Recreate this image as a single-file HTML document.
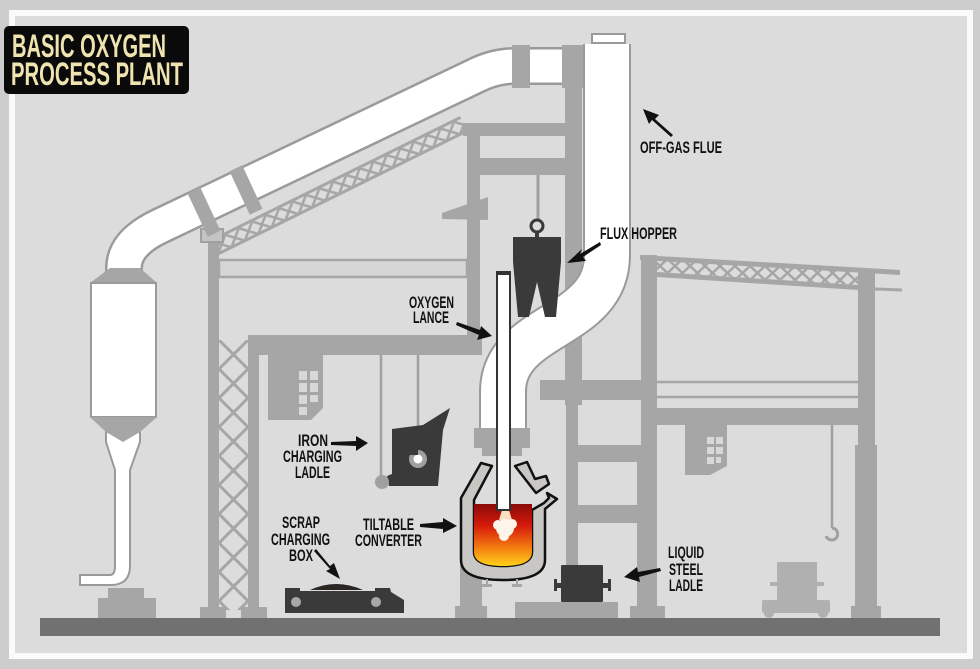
<!DOCTYPE html>
<html><head><meta charset="utf-8"><style>
html,body{margin:0;padding:0;background:#cdcdcd;}
svg{display:block;}
text{font-family:"Liberation Sans Narrow","Liberation Sans",sans-serif;font-weight:bold;fill:#111;}
</style></head><body>
<svg width="980" height="669" viewBox="0 0 980 669" xmlns="http://www.w3.org/2000/svg">
<defs>
<pattern id="xv" patternUnits="userSpaceOnUse" x="219" y="340" width="29" height="29">
<path d="M0 0 L29 29 M29 0 L0 29" stroke="#a6a6a6" stroke-width="3"/></pattern>
<pattern id="xs" patternUnits="userSpaceOnUse" width="15" height="14">
<path d="M0 0 L15 14 M15 0 L0 14" stroke="#a6a6a6" stroke-width="2.5"/></pattern>
<linearGradient id="melt" x1="0" y1="0" x2="0" y2="1">
<stop offset="0" stop-color="#8a0a0a"/><stop offset="0.35" stop-color="#d51a0a"/><stop offset="0.7" stop-color="#f47a10"/><stop offset="1" stop-color="#ffd21a"/></linearGradient>
<marker id="ah" markerWidth="10" markerHeight="10" refX="8" refY="5" orient="auto" markerUnits="userSpaceOnUse"><path d="M0 0 L10 5 L0 10 L2 5 Z" fill="#111"/></marker>
</defs>
<rect width="980" height="669" fill="#cdcdcd"/>
<rect x="12" y="13" width="958" height="643" fill="#dcdcdc" stroke="#fafafa" stroke-width="6"/>

<!-- ground -->
<rect x="40" y="618" width="900" height="18" fill="#717171"/>

<!-- left building -->
<rect x="208" y="236" width="11" height="382" fill="#a6a6a6"/>
<rect x="219" y="340" width="29" height="270" fill="url(#xv)"/>
<rect x="248" y="337" width="11" height="281" fill="#a6a6a6"/>
<rect x="200" y="607" width="26" height="11" fill="#a6a6a6"/>
<rect x="241" y="607" width="26" height="11" fill="#a6a6a6"/>
<rect x="219" y="260" width="248" height="17" fill="#d6d6d6" stroke="#a6a6a6" stroke-width="2.5"/>
<g transform="translate(218,254) rotate(-26.3)">
<rect x="0" y="-15" width="278" height="15" fill="url(#xs)"/>
<line x1="0" y1="-15" x2="278" y2="-15" stroke="#a6a6a6" stroke-width="3"/>
<line x1="0" y1="0" x2="278" y2="0" stroke="#a6a6a6" stroke-width="3"/>
</g>
<rect x="201" y="229" width="22" height="13" fill="#c4c4c4" stroke="#a0a0a0" stroke-width="2"/>

<!-- upper central frame -->
<rect x="463" y="123" width="112" height="13" fill="#a6a6a6"/>
<rect x="467" y="123" width="13" height="215" fill="#a6a6a6"/>
<rect x="476" y="158" width="92" height="17" fill="#a6a6a6"/>
<rect x="565" y="45" width="17" height="360" fill="#a6a6a6"/>
<polygon points="442,213 488,197 488,220 442,219" fill="#a6a6a6"/>
<line x1="538" y1="175" x2="538" y2="220" stroke="#a6a6a6" stroke-width="3"/>

<!-- middle beam + hanging block -->
<rect x="248" y="335" width="234" height="20" fill="#a6a6a6"/>
<polygon points="268,355 323,355 323,408 311,420 268,420" fill="#a6a6a6"/>
<g fill="#d8d8d8"><rect x="299" y="371" width="8" height="9"/><rect x="310" y="371" width="8" height="9"/><rect x="299" y="383" width="8" height="9"/><rect x="310" y="383" width="8" height="9"/><rect x="299" y="395" width="8" height="9"/><rect x="310" y="395" width="8" height="7"/><rect x="299" y="407" width="8" height="8"/></g>
<line x1="381" y1="355" x2="381" y2="480" stroke="#a0a0a0" stroke-width="2.5"/>
<line x1="418" y1="355" x2="418" y2="452" stroke="#a0a0a0" stroke-width="2.5"/>

<!-- right structure -->
<polygon points="640,255 900,270 900,275 640,260" fill="#a6a6a6"/>
<polygon points="657,272 858,285 858,290 657,277" fill="#a6a6a6"/>
<polygon points="657,259 858,272 858,285 657,272" fill="url(#xs)"/>
<line x1="875" y1="289" x2="902" y2="290" stroke="#a6a6a6" stroke-width="3"/>
<rect x="641" y="255" width="16" height="363" fill="#a6a6a6"/>
<rect x="637" y="445" width="20" height="165" fill="#a6a6a6"/>
<rect x="858" y="272" width="17" height="346" fill="#a6a6a6"/>
<rect x="855" y="445" width="22" height="165" fill="#a6a6a6"/>
<rect x="630" y="606" width="35" height="12" fill="#a6a6a6"/>
<rect x="851" y="606" width="30" height="12" fill="#a6a6a6"/>
<line x1="657" y1="382" x2="858" y2="382" stroke="#a6a6a6" stroke-width="2.5"/>
<line x1="657" y1="397" x2="858" y2="397" stroke="#a6a6a6" stroke-width="2.5"/>
<rect x="657" y="408" width="201" height="17" fill="#a6a6a6"/>
<polygon points="685,425 727,425 727,466 710,475 685,475" fill="#a6a6a6"/>
<g fill="#d8d8d8"><rect x="707" y="437" width="7" height="7"/><rect x="716" y="437" width="7" height="7"/><rect x="707" y="447" width="7" height="7"/><rect x="716" y="447" width="7" height="7"/><rect x="707" y="457" width="7" height="7"/><rect x="716" y="457" width="5" height="6"/></g>
<line x1="832" y1="425" x2="832" y2="528" stroke="#a0a0a0" stroke-width="2.5"/>
<path d="M832 528 A6 6 0 1 1 826 536" fill="none" stroke="#a0a0a0" stroke-width="3"/>
<!-- light cart -->
<rect x="777" y="562" width="40" height="38" fill="#b0b0b0"/>
<rect x="770" y="582" width="7" height="4" fill="#b0b0b0"/><rect x="817" y="582" width="7" height="4" fill="#b0b0b0"/>
<rect x="762" y="600" width="68" height="13" rx="2" fill="#b0b0b0"/>
<circle cx="769" cy="613" r="5" fill="#b0b0b0"/><circle cx="823" cy="613" r="5" fill="#b0b0b0"/>

<!-- right-of-flue frame -->
<rect x="540" y="380" width="102" height="20" fill="#a6a6a6"/>
<rect x="566" y="400" width="12" height="210" fill="#a6a6a6"/>
<rect x="578" y="445" width="60" height="17" fill="#a6a6a6"/>
<rect x="578" y="505" width="60" height="18" fill="#a6a6a6"/>
<rect x="559" y="606" width="30" height="12" fill="#a6a6a6"/>

<!-- converter support column -->
<rect x="460" y="565" width="22" height="45" fill="#a6a6a6"/>
<rect x="455" y="606" width="32" height="12" fill="#a6a6a6"/>

<!-- top pipe -->
<path d="M590 66 L515 66 Q495 66 475 76 L160 226 Q124 243 124 268 L124 285" fill="none" stroke="#9a9a9a" stroke-width="38"/>
<path d="M590 66 L515 66 Q495 66 475 76 L160 226 Q124 243 124 268 L124 285" fill="none" stroke="#ffffff" stroke-width="33"/>
<rect x="512" y="45" width="18" height="43" fill="#a6a6a6"/>
<rect x="562" y="45" width="22" height="43" fill="#a6a6a6"/>
<rect x="197" y="188" width="14" height="48" fill="#a6a6a6" transform="rotate(-25 204 212)"/>
<rect x="239" y="166" width="14" height="48" fill="#a6a6a6" transform="rotate(-25 246 190)"/>

<!-- filter -->
<polygon points="110,268 140,268 157,283 90,283" fill="#a6a6a6"/>
<rect x="91" y="283" width="65" height="134" fill="#fff" stroke="#9a9a9a" stroke-width="2"/>
<path d="M106 432 L140 432 L140 442 L130 470 L130 566 Q130 584 112 585 L80 585 L80 575 L110 575 Q115 575 115 566 L115 470 L106 442 Z" fill="#fff" stroke="#9a9a9a" stroke-width="2"/>
<polygon points="90,417 157,417 140,432 123,442 106,432" fill="#a6a6a6"/>
<rect x="108" y="588" width="36" height="10" fill="#a6a6a6"/>
<rect x="98" y="598" width="58" height="20" fill="#a6a6a6"/>

<!-- flue -->
<path d="M607 44 L607 255 C607 330 503 322 503 392 L503 428" fill="none" stroke="#9a9a9a" stroke-width="48"/>
<path d="M607 44 L607 255 C607 330 503 322 503 392 L503 428" fill="none" stroke="#ffffff" stroke-width="44"/>
<rect x="592" y="34" width="33" height="9" fill="#fff" stroke="#9a9a9a" stroke-width="2"/>
<rect x="474" y="428" width="56" height="20" fill="#a6a6a6"/>
<rect x="482" y="448" width="40" height="8" fill="#a6a6a6"/>

<!-- flux hopper -->
<line x1="538" y1="175" x2="538" y2="220" stroke="#a0a0a0" stroke-width="3"/>
<circle cx="537" cy="226" r="6" fill="none" stroke="#3a3a3a" stroke-width="3"/>
<rect x="535" y="231" width="4" height="7" fill="#3a3a3a"/>
<polygon points="513,237 561,237 561,262 556,317 545,317 537,282 529,317 518,317 513,262" fill="#3a3a3a"/>

<!-- iron ladle -->
<polygon points="392,429 423,425 450,408 443,430 438,486 389,486 387,476 392,474" fill="#3a3a3a"/>
<circle cx="382" cy="482" r="7" fill="#a0a0a0"/>
<path d="M418 450 L418 453" stroke="#a0a0a0" stroke-width="3"/>
<circle cx="418" cy="459" r="9" fill="#a0a0a0"/><circle cx="418" cy="459" r="4.5" fill="#fff"/>
<rect x="409" y="448" width="9" height="7" fill="#3a3a3a"/>

<!-- converter -->
<path d="M481 463 L492 466 L474 500 L474 552 Q474 566 503 566 Q532 566 532 552 L532 510 L544 503 L549 498 L547 493 L557 499 L545 509 L545 560 Q545 580 503 580 Q461 580 461 560 L461 498 Z" fill="#c9c7c4" stroke="#111" stroke-width="2.5" stroke-linejoin="round"/>
<path d="M515 466 L527 462 L535 479 L546 476 L549 484 L536 493 Z" fill="#c9c7c4" stroke="#111" stroke-width="2.5" stroke-linejoin="round"/>
<path d="M474 504 L532 504 L532 552 Q532 566 503 566 Q474 566 474 552 Z" fill="url(#melt)"/>
<polygon points="502,510 509,510 512,520 499,520" fill="#f7e0c0"/>
<circle cx="505" cy="528" r="9" fill="#fff4ea"/><circle cx="498" cy="525" r="5" fill="#fff4ea"/><circle cx="512" cy="524" r="5" fill="#fff4ea"/><circle cx="504" cy="536" r="5" fill="#fff4ea"/>
<rect x="486" y="579" width="2" height="5" fill="#a6a6a6"/><rect x="482" y="584" width="10" height="3" fill="#a6a6a6"/>
<rect x="516" y="579" width="2" height="5" fill="#a6a6a6"/><rect x="512" y="584" width="10" height="3" fill="#a6a6a6"/>

<!-- lance -->
<rect x="497" y="273" width="13" height="237" fill="#fff" stroke="#333" stroke-width="2"/>
<rect x="496" y="271" width="15" height="4" fill="#333"/>

<!-- scrap box -->
<path d="M310 590 Q336 578 363 590 Z" fill="#2a2622"/>
<polygon points="285,588 300,588 300,591 375,591 375,588 390,588 391,592 404,600 404,613 285,613" fill="#3a3a3a"/>
<circle cx="296" cy="602" r="5" fill="#a8a8a8"/><circle cx="376" cy="602" r="5" fill="#a8a8a8"/>

<!-- liquid steel ladle -->
<rect x="515" y="602" width="103" height="16" fill="#a6a6a6"/>
<rect x="561" y="565" width="42" height="37" rx="1" fill="#3a3a3a"/>
<rect x="555" y="583" width="7" height="5" fill="#3a3a3a"/><rect x="554" y="579" width="3" height="12" fill="#3a3a3a"/>
<rect x="603" y="583" width="7" height="5" fill="#3a3a3a"/><rect x="608" y="579" width="3" height="12" fill="#3a3a3a"/>

<!-- title -->
<rect x="4" y="26" width="185" height="68" rx="5" fill="#0a0a0a"/>
<text x="12" y="57" font-size="32" textLength="154" lengthAdjust="spacingAndGlyphs" style="fill:#efe4b0">BASIC OXYGEN</text>
<text x="11" y="85" font-size="32" textLength="172" lengthAdjust="spacingAndGlyphs" style="fill:#efe4b0">PROCESS PLANT</text>

<!-- labels -->
<g font-size="17">
<text x="640" y="153" textLength="82" lengthAdjust="spacingAndGlyphs">OFF-GAS FLUE</text>
<text x="600" y="239" textLength="77" lengthAdjust="spacingAndGlyphs">FLUX HOPPER</text>
<text x="409" y="308" textLength="45" lengthAdjust="spacingAndGlyphs">OXYGEN</text>
<text x="413" y="323" textLength="36" lengthAdjust="spacingAndGlyphs">LANCE</text>
<text x="298" y="446" textLength="30" lengthAdjust="spacingAndGlyphs">IRON</text>
<text x="283" y="462" textLength="59" lengthAdjust="spacingAndGlyphs">CHARGING</text>
<text x="295" y="478" textLength="35" lengthAdjust="spacingAndGlyphs">LADLE</text>
<text x="282" y="528" textLength="38" lengthAdjust="spacingAndGlyphs">SCRAP</text>
<text x="271" y="545" textLength="59" lengthAdjust="spacingAndGlyphs">CHARGING</text>
<text x="289" y="561" textLength="24" lengthAdjust="spacingAndGlyphs">BOX</text>
<text x="363" y="530" textLength="51" lengthAdjust="spacingAndGlyphs">TILTABLE</text>
<text x="355" y="546" textLength="67" lengthAdjust="spacingAndGlyphs">CONVERTER</text>
<text x="668" y="558" textLength="36" lengthAdjust="spacingAndGlyphs">LIQUID</text>
<text x="669" y="575" textLength="34" lengthAdjust="spacingAndGlyphs">STEEL</text>
<text x="669" y="591" textLength="34" lengthAdjust="spacingAndGlyphs">LADLE</text>
</g>

<!-- arrows -->
<g fill="#111">
<polygon points="673,135 655,119 659,115 643,109 649,124 652,120 671,137"/>
<polygon points="600,242 580,254 582,249 567,263 586,261 583,257 601,245"/>
<polygon points="457,322 480,330 481,326 492,336 477,340 479,335 456,325"/>
<polygon points="331,442 356,441 356,436 368,443 356,451 356,446 331,445"/>
<polygon points="316,549 330,566 334,563 340,579 326,571 330,569 314,551"/>
<polygon points="420,524 443,522 443,518 457,526 443,533 443,529 420,527"/>
<polygon points="660,568 638,572 637,567 624,577 640,582 639,577 661,571"/>
</g>
</svg>
</body></html>
